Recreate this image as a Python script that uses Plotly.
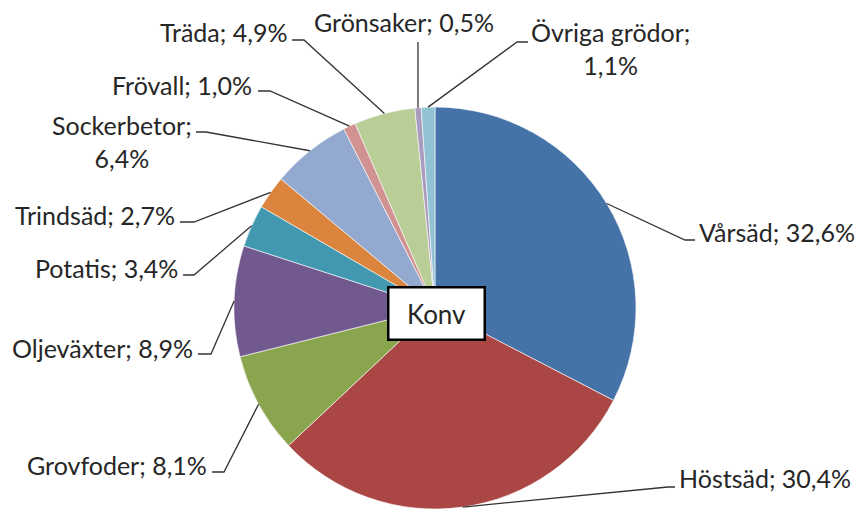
import math
import plotly.graph_objects as go

# ---- data ----
categories = ["Vårsäd", "Höstsäd", "Grovfoder", "Oljeväxter", "Potatis", "Trindsäd",
              "Sockerbetor", "Frövall", "Träda", "Grönsaker", "Övriga grödor"]
shares = [32.6, 30.4, 8.1, 8.9, 3.4, 2.7, 6.4, 1.0, 4.9, 0.5, 1.1]
label_texts = ["Vårsäd; 32,6%", "Höstsäd; 30,4%", "Grovfoder; 8,1%", "Oljeväxter; 8,9%",
               "Potatis; 3,4%", "Trindsäd; 2,7%", "Sockerbetor;<br>6,4%", "Frövall; 1,0%",
               "Träda; 4,9%", "Grönsaker; 0,5%", "Övriga grödor;<br>1,1%"]
center_label = "Konv"

colors = ["#4572A7", "#AA4643", "#89A54E", "#71588F", "#4198AF", "#DB843D",
          "#93A9CF", "#D19392", "#B9CD96", "#A99BBD", "#92C3D5"]

# ---- layout geometry (pixels) ----
W, H = 857, 510
CX, CY, R = 435, 308, 201
FONT = "Lato"
FS = 25
TXT = "#262626"

# label placement: text anchor point (x, y, xanchor), elbow point, line end
label_layout = [
    dict(tx=697, ty=232, xa="left",  elbow=(685, 240), end=(695, 240)),
    dict(tx=677, ty=478, xa="left",  elbow=(668, 487), end=(675, 487)),
    dict(tx=209, ty=465, xa="right", elbow=(224, 472), end=(212, 472)),
    dict(tx=195, ty=348, xa="right", elbow=(211, 354), end=(198, 354)),
    dict(tx=180, ty=268, xa="right", elbow=(194, 275), end=(183, 275)),
    dict(tx=177, ty=215, xa="right", elbow=(194, 222), end=(180, 222)),
    dict(tx=122, ty=141, xa="center", elbow=(206, 132), end=(196, 132)),
    dict(tx=254, ty=85,  xa="right", elbow=(270, 91),  end=(258, 91)),
    dict(tx=289, ty=32,  xa="right", elbow=(304, 40),  end=(292, 40)),
    dict(tx=404, ty=22,  xa="center", elbow=(None, 42), end=(None, 42)),
    dict(tx=610, ty=48,  xa="center", elbow=(517, 42),  end=(528, 42)),
]


def px(x):
    return x / W


def py(y):
    return 1 - y / H


fig = go.Figure(go.Pie(
    labels=categories,
    values=shares,
    sort=False,
    direction="clockwise",
    rotation=0,
    textinfo="none",
    hoverinfo="label+percent",
    marker=dict(colors=colors, line=dict(color="white", width=0.6)),
    domain=dict(x=[px(CX - R), px(CX + R)], y=[py(CY + R), py(CY - R)]),
    showlegend=False,
))

# leader lines + labels computed from slice mid-angles
total = sum(shares)
cum = 0.0
shapes = []
annotations = []
for val, txt, lay in zip(shares, label_texts, label_layout):
    mid = (cum + val / 2) / total * 2 * math.pi
    cum += val
    sx = CX + R * math.sin(mid)
    sy = CY - R * math.cos(mid)
    ex, ey = lay["elbow"]
    nx, ny = lay["end"]
    if ex is None:
        ex = sx
        nx = sx
    path = f"M {px(sx)} {py(sy)} L {px(ex)} {py(ey)} L {px(nx)} {py(ny)}"
    shapes.append(dict(type="path", xref="paper", yref="paper", path=path,
                       line=dict(color="#333333", width=1.3)))
    annotations.append(dict(x=px(lay["tx"]), y=py(lay["ty"]), xref="paper", yref="paper",
                            text=txt, showarrow=False, xanchor=lay["xa"], yanchor="middle",
                            align="center", font=dict(family=FONT, size=FS, color=TXT)))

annotations.append(dict(x=px(437), y=py(313), xref="paper", yref="paper",
                        text=center_label, showarrow=False, xanchor="center", yanchor="middle",
                        width=94, height=50, bgcolor="white", bordercolor="black",
                        borderwidth=2.5, borderpad=0,
                        font=dict(family=FONT, size=FS + 1, color=TXT)))

fig.update_layout(
    width=W, height=H,
    margin=dict(l=0, r=0, t=0, b=0),
    paper_bgcolor="white",
    plot_bgcolor="white",
    shapes=shapes,
    annotations=annotations,
)

fig.write_html("out.html", config={"displayModeBar": False},
               post_script="document.body.style.margin='0';")
